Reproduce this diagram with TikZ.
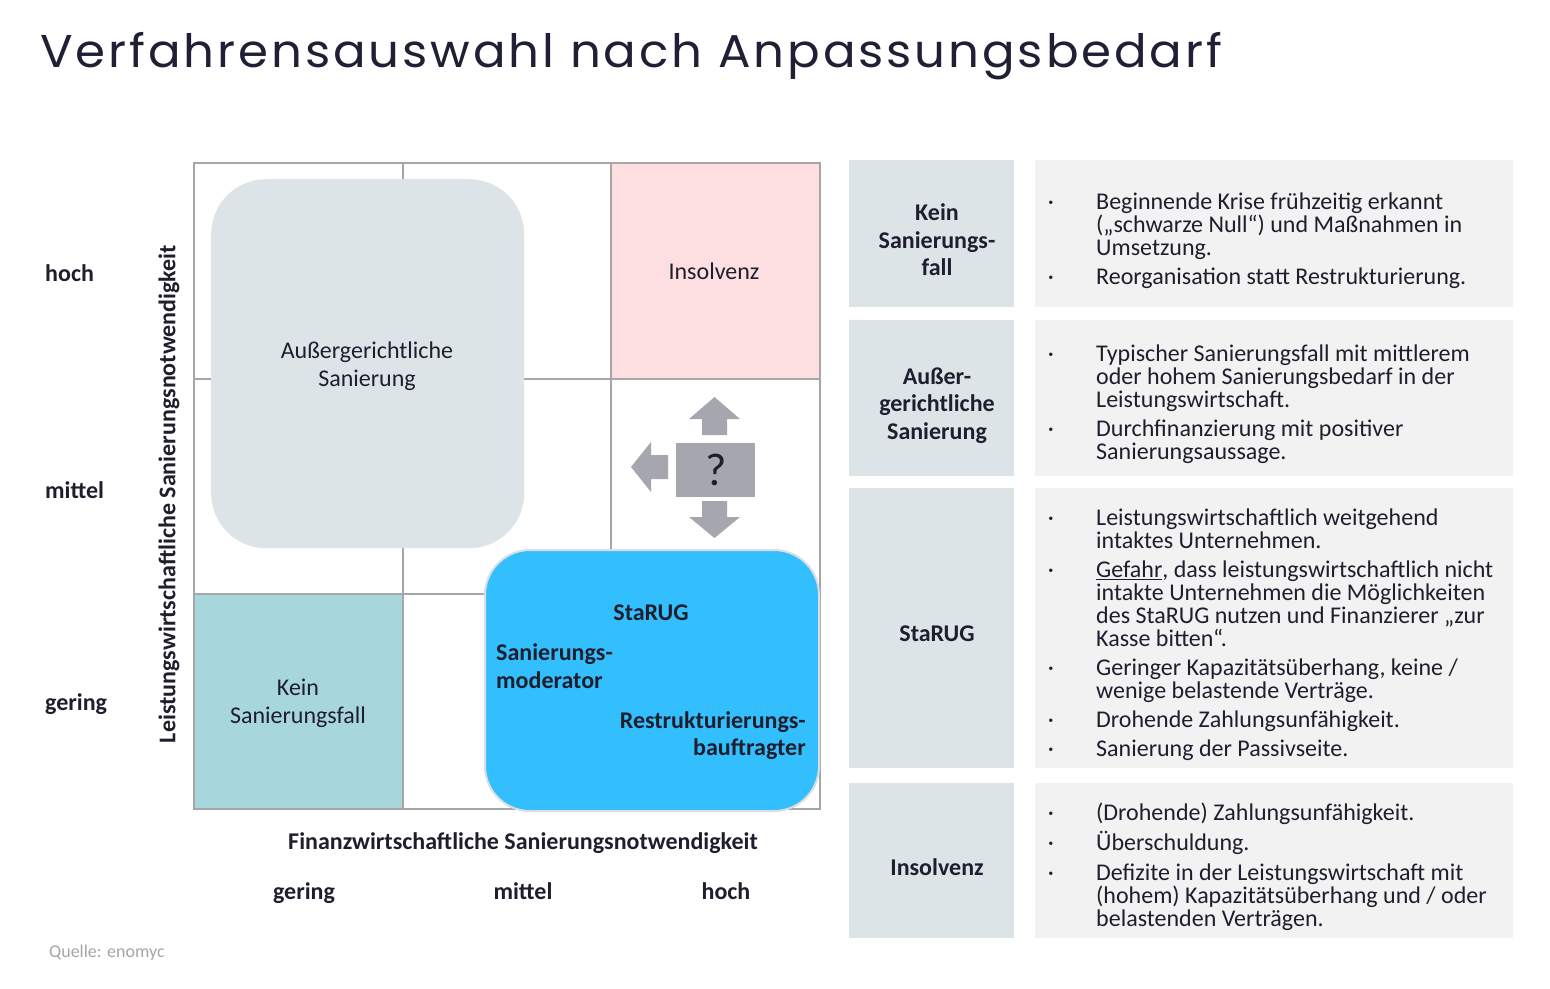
\documentclass[tikz,border=0pt]{standalone}
\usepackage{fontspec}
\usepackage{graphicx}
\setmainfont{Carlito}
\newfontfamily\titlefont[LetterSpace=6]{Poppins}
\definecolor{titleink}{HTML}{1F1F35}
\definecolor{ink}{HTML}{1E1E2D}
\definecolor{gridcol}{HTML}{A6A6A6}
\definecolor{boxgrey}{HTML}{DDE4E8}
\definecolor{panelgrey}{HTML}{F2F2F2}
\definecolor{pinkcell}{HTML}{FDDFE2}
\definecolor{tealcell}{HTML}{A7D6DC}
\definecolor{starblue}{HTML}{33BEFE}
\definecolor{starborder}{HTML}{D9DEE2}
\definecolor{arrowgrey}{HTML}{A6A6AE}
\definecolor{sourcegrey}{HTML}{A6A6A6}
\newcommand\tstrut{\rule{0pt}{20pt}}
\AtBeginDocument{\lineskiplimit=-100pt\relax}
\tikzset{
  txt/.style={inner sep=0pt, text=ink, font=\fontsize{24}{28}\selectfont},
  btxt/.style={inner sep=0pt, text=ink, font=\bfseries\fontsize{24}{28}\selectfont},
  itemtext/.style={inner sep=0pt, text=ink, anchor=north west, align=left,
    font=\fontsize{24}{22.9}\selectfont},
  bul/.style={inner sep=0pt, text=ink, anchor=base, font=\fontsize{24}{24}\selectfont},
  labelbox/.style={fill=boxgrey, draw=none, inner sep=0pt, anchor=north west, minimum width=165pt},
  contentbox/.style={fill=panelgrey, draw=none, inner sep=0pt, anchor=north west, minimum width=478pt},
  labeltext/.style={inner sep=0pt, text=ink, anchor=north, align=center,
    font=\bfseries\fontsize{24}{27.5}\selectfont},
  gridrule/.style={draw=gridcol, line width=1.3pt},
  arrowshape/.style={fill=arrowgrey, draw=none},
}
\begin{document}
\begin{tikzpicture}[x=1pt,y=-1pt]
\useasboundingbox (0,0) rectangle (1550,988);
\fill[white] (0,0) rectangle (1550,988);

% title
\node[anchor=base west, inner sep=0pt, text=titleink, font=\titlefont\fontsize{46}{50}\selectfont] (title) at (40,67.5)
  {\resizebox{1182pt}{\height}{Verfahrensauswahl nach Anpassungsbedarf}};

% matrix cells
\node[fill=pinkcell, inner sep=0pt, minimum width=209pt, minimum height=216pt, anchor=north west] (inscell) at (611,163) {};
\node[fill=tealcell, inner sep=0pt, minimum width=209pt, minimum height=215pt, anchor=north west] (keincell) at (194,594) {};

% grid
\draw[gridrule] (194,163) rectangle (820,809);
\draw[gridrule] (403,163) -- (403,809);
\draw[gridrule] (611,163) -- (611,809);
\draw[gridrule] (194,379) -- (820,379);
\draw[gridrule] (194,594) -- (820,594);

% rounded boxes
\node[fill=boxgrey, rounded corners=55pt, inner sep=0pt, minimum width=313pt, minimum height=369pt, anchor=north west] (ausbox) at (211,179) {};
\node[fill=starblue, draw=starborder, line width=2pt, rounded corners=45pt, inner sep=0pt, minimum width=334pt, minimum height=261pt, anchor=north west] (starbox) at (484,549) {};

% labels in matrix
\node[txt, anchor=base] (instext) at (714,279) {Insolvenz};
\node[txt, anchor=north, align=center] (austext) at (367,338) {\tstrut Außergerichtliche\\Sanierung};
\node[txt, anchor=north, align=center] (keintext) at (298,675.5) {\tstrut Kein\\Sanierungsfall};
\node[btxt, anchor=base] (startext) at (651,620.5) {StaRUG};
\node[btxt, anchor=north west, align=left] (modtext) at (496,640.5) {\tstrut Sanierungs-\\moderator};
\node[btxt, anchor=north east, align=right, font=\bfseries\fontsize{24}{27}\selectfont] (bautext) at (806,708) {\tstrut Restrukturierungs-\\bauftragter};

% question box with arrows
\node[fill=arrowgrey, inner sep=0pt, minimum width=79pt, minimum height=54pt, anchor=north west, text=ink, font=\fontsize{46}{46}\selectfont] (qbox) at (676,443) {?};
\fill[arrowshape] (702,435) -- (702,419) -- (689,419) -- (714.5,397) -- (740,419) -- (727,419) -- (727,435) -- cycle;
\fill[arrowshape] (702,501) -- (727,501) -- (727,517) -- (740,517) -- (714.5,538) -- (689,517) -- (702,517) -- cycle;
\fill[arrowshape] (668,455) -- (651,455) -- (651,442) -- (631,467) -- (651,492) -- (651,479) -- (668,479) -- cycle;

% axes
\node[btxt, anchor=base west] (yhoch) at (45,281) {hoch};
\node[btxt, anchor=base west] (ymittel) at (45,498) {mittel};
\node[btxt, anchor=base west] (ygering) at (45,710) {gering};
\node[btxt, rotate=90] (ytitle) at (169,494) {Leistungswirtschaftliche Sanierungsnotwendigkeit};
\node[btxt, anchor=base] (xtitle) at (523,849.5) {Finanzwirtschaftliche Sanierungsnotwendigkeit};
\node[btxt, anchor=base] (xgering) at (304,899) {gering};
\node[btxt, anchor=base] (xmittel) at (523,899) {mittel};
\node[btxt, anchor=base] (xhoch) at (726,899) {hoch};
\node[inner sep=0pt, anchor=base west, text=sourcegrey, font=\fontsize{18}{20}\selectfont] (source) at (49,957.5) {Quelle: enomyc};

% right panel boxes
\node[labelbox, minimum height=147pt] (lb1) at (849,160) {};
\node[contentbox, minimum height=147pt] (cb1) at (1035,160) {};
\node[labelbox, minimum height=156pt] (lb2) at (849,320) {};
\node[contentbox, minimum height=156pt] (cb2) at (1035,320) {};
\node[labelbox, minimum height=280pt] (lb3) at (849,488) {};
\node[contentbox, minimum height=280pt] (cb3) at (1035,488) {};
\node[labelbox, minimum height=155pt] (lb4) at (849,783) {};
\node[contentbox, minimum height=155pt] (cb4) at (1035,783) {};

% label texts
\node[labeltext] (lt1) at (937,200.5) {\tstrut Kein\\Sanierungs-\\fall};
\node[labeltext, font=\bfseries\fontsize{24}{27.7}\selectfont] (lt2) at (937,364) {\tstrut Außer-\\gerichtliche\\Sanierung};
\node[btxt, anchor=base] (lt3) at (937,641.5) {StaRUG};
\node[btxt, anchor=base] (lt4) at (937,875) {Insolvenz};

% row 1 items
\node[bul] (b11) at (1051,209) {·};
\node[itemtext] (i11) at (1096,189) {\tstrut Beginnende Krise frühzeitig erkannt\\(„schwarze Null“) und Maßnahmen in\\Umsetzung.};
\node[bul] (b12) at (1051,284) {·};
\node[itemtext] (i12) at (1096,264) {\tstrut Reorganisation statt Restrukturierung.};

% row 2 items
\node[bul] (b21) at (1051,361) {·};
\node[itemtext] (i21) at (1096,341) {\tstrut Typischer Sanierungsfall mit mittlerem\\oder hohem Sanierungsbedarf in der\\Leistungswirtschaft.};
\node[bul] (b22) at (1051,436.5) {·};
\node[itemtext] (i22) at (1096,416.5) {\tstrut Durchfinanzierung mit positiver\\Sanierungsaussage.};

% row 3 items
\node[bul] (b31) at (1051,525.5) {·};
\node[itemtext] (i31) at (1096,505.5) {\tstrut Leistungswirtschaftlich weitgehend\\intaktes Unternehmen.};
\node[bul] (b32) at (1051,577.5) {·};
\node[itemtext] (i32) at (1096,557.5) {\tstrut \underline{Gefahr}, dass leistungswirtschaftlich nicht\\intakte Unternehmen die Möglichkeiten\\des StaRUG nutzen und Finanzierer „zur\\Kasse bitten“.};
\node[bul] (b33) at (1051,675.5) {·};
\node[itemtext] (i33) at (1096,655.5) {\tstrut Geringer Kapazitätsüberhang, keine /\\wenige belastende Verträge.};
\node[bul] (b34) at (1051,727) {·};
\node[itemtext] (i34) at (1096,707) {\tstrut Drohende Zahlungsunfähigkeit.};
\node[bul] (b35) at (1051,756) {·};
\node[itemtext] (i35) at (1096,736) {\tstrut Sanierung der Passivseite.};

% row 4 items
\node[bul] (b41) at (1051,820) {·};
\node[itemtext] (i41) at (1096,800) {\tstrut (Drohende) Zahlungsunfähigkeit.};
\node[bul] (b42) at (1051,850) {·};
\node[itemtext] (i42) at (1096,830) {\tstrut Überschuldung.};
\node[bul] (b43) at (1051,880) {·};
\node[itemtext] (i43) at (1096,860) {\tstrut Defizite in der Leistungswirtschaft mit\\(hohem) Kapazitätsüberhang und / oder\\belastenden Verträgen.};
\end{tikzpicture}
\end{document}
